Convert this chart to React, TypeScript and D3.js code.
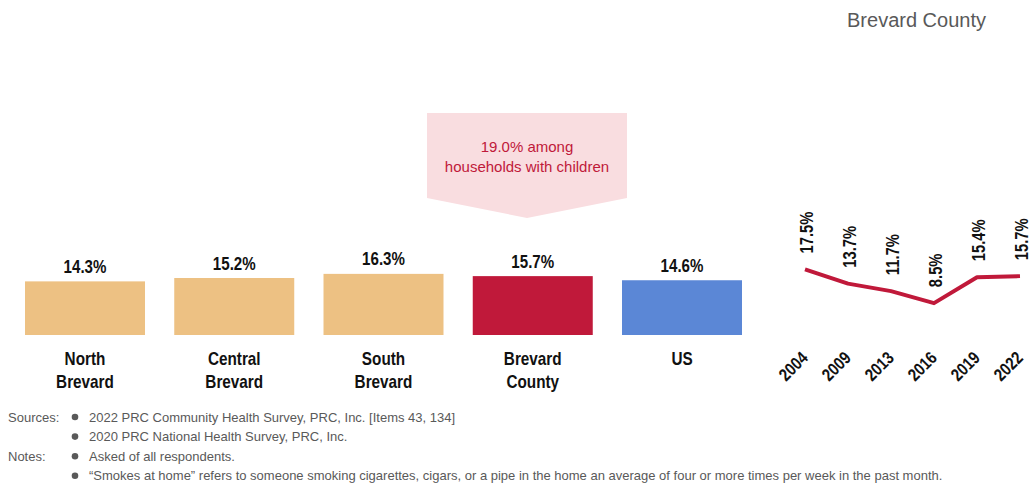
import React from "react";
import * as d3 from "d3";

const categories = ["North\nBrevard", "Central\nBrevard", "South\nBrevard", "Brevard\nCounty", "US"];
const barValues = [14.3, 15.2, 16.3, 15.7, 14.6];
const barColors = ["#EDC183", "#EDC183", "#EDC183", "#C0193A", "#5B87D6"];

const years = ["2004", "2009", "2013", "2016", "2019", "2022"];
const trendValues = [17.5, 13.7, 11.7, 8.5, 15.4, 15.7];

const title = "Brevard County";
const calloutLines = ["19.0% among", "households with children"];
const footLines = [
  { label: "Sources:", text: "2022 PRC Community Health Survey, PRC, Inc. [Items 43, 134]" },
  { label: "", text: "2020 PRC National Health Survey, PRC, Inc." },
  { label: "Notes:", text: "Asked of all respondents." },
  { label: "", text: "\u201cSmokes at home\u201d refers to someone smoking cigarettes, cigars, or a pipe in the home an average of four or more times per week in the past month." },
];

const W = 1034;
const H = 487;
const FONT = "'Liberation Sans', Arial, sans-serif";
const NARROW = 0.84;

export default function App() {
  const y = d3.scaleLinear().domain([0, 20]).range([335, 260]);
  const x = d3.scaleBand<string>().domain(categories).range([25, 742]).paddingInner(0.196).paddingOuter(0);
  const xl = d3.scalePoint<string>().domain(years).range([805, 1020]);
  const line = d3
    .line<number>()
    .x((_, i) => xl(years[i]) as number)
    .y((d) => y(d));

  const callout = "M427,113 L627,113 L627,198 L527,218 L427,198 Z";

  return (
    <svg width={W} height={H} style={{ position: "absolute", left: 0, top: 0, background: "#fff" }} fontFamily={FONT}>
      <text x={986} y={27} textAnchor="end" fontSize={20} fill="#595959">
        {title}
      </text>

      <path d={callout} fill="#F9DDE0" />
      {calloutLines.map((t, i) => (
        <text key={i} x={527} y={152 + i * 20} textAnchor="middle" fontSize={15} fill="#C0193A">
          {t}
        </text>
      ))}

      {categories.map((c, i) => {
        const bx = x(c) as number;
        const bw = x.bandwidth();
        const cx = bx + bw / 2;
        return (
          <g key={c}>
            <rect x={bx} y={y(barValues[i])} width={bw} height={y(0) - y(barValues[i])} fill={barColors[i]} />
            <text
              transform={`translate(${cx},${y(barValues[i]) - 8.5}) scale(${NARROW},1)`}
              textAnchor="middle"
              fontSize={18}
              fontWeight="bold"
              fill="#111"
            >
              {barValues[i].toFixed(1) + "%"}
            </text>
            {c.split("\n").map((ln, j) => (
              <text
                key={j}
                transform={`translate(${cx},${365 + j * 23}) scale(${NARROW + 0.01},1)`}
                textAnchor="middle"
                fontSize={18}
                fontWeight="bold"
                fill="#111"
              >
                {ln}
              </text>
            ))}
          </g>
        );
      })}

      <path d={line(trendValues) || ""} fill="none" stroke="#C0193A" strokeWidth={4} strokeLinejoin="round" />
      {years.map((yr, i) => {
        const px = xl(yr) as number;
        const py = y(trendValues[i]);
        return (
          <g key={yr}>
            <text
              transform={`translate(${px + 8},${py - 16}) rotate(-90) scale(0.82,1)`}
              fontSize={18}
              fontWeight="bold"
              fill="#111"
            >
              {trendValues[i].toFixed(1) + "%"}
            </text>
            <text
              transform={`translate(${px + 4},${359}) rotate(-45) scale(0.84,1)`}
              textAnchor="end"
              fontSize={17.5}
              fontWeight="bold"
              fill="#111"
            >
              {yr}
            </text>
          </g>
        );
      })}

      {footLines.map((f, i) => {
        const ty = 421.5 + i * 19.6;
        return (
          <g key={i} fontSize={13} fill="#595959">
            {f.label && (
              <text x={8} y={ty}>
                {f.label}
              </text>
            )}
            <circle cx={75} cy={ty - 4.5} r={3.3} fill="#595959" />
            <text x={89} y={ty}>
              {f.text}
            </text>
          </g>
        );
      })}
    </svg>
  );
}
